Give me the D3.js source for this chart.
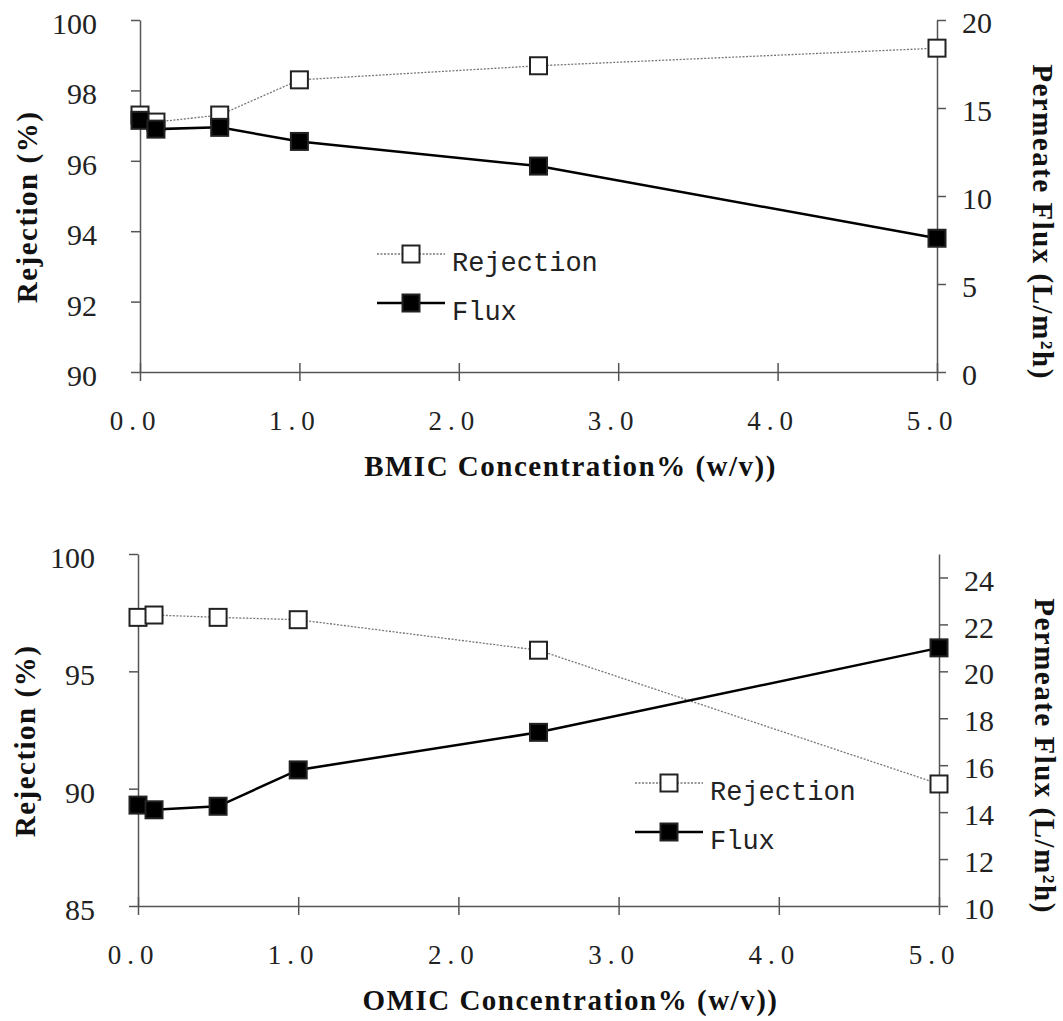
<!DOCTYPE html>
<html>
<head>
<meta charset="utf-8">
<script src="https://cdn.jsdelivr.net/npm/d3@7"></script>
<style>
body { margin: 0; background: #fff; }
svg { display: block; }
.y-label { font-family: "Liberation Serif", serif; font-size: 30px; fill: #222; }
.x-label { font-family: "Liberation Serif", serif; font-size: 27px; letter-spacing: 6px; fill: #222; }
.axis-title { font-family: "Liberation Serif", serif; font-size: 29px; font-weight: bold; letter-spacing: 1.5px; fill: #111; }
.legend-text { font-family: "Liberation Mono", monospace; font-size: 27px; fill: #222; }
</style>
</head>
<body>
<svg id="chart" width="1063" height="1021"></svg>
<script>
// values
const concentration = [0, 0.1, 0.5, 1.0, 2.5, 5.0];
const bmicRejection = [97.3, 97.1, 97.3, 98.3, 98.7, 99.2];
const bmicFlux = [14.3, 13.8, 13.9, 13.1, 11.7, 7.6];
const omicRejection = [97.3, 97.4, 97.3, 97.2, 95.9, 90.2];
const omicFlux = [14.3, 14.1, 14.25, 15.8, 17.4, 21.0];

const xTickValues = [0, 1, 2, 3, 4, 5];
const bmicRejectionTicks = [90, 92, 94, 96, 98, 100];
const bmicFluxTicks = [0, 5, 10, 15, 20];
const omicRejectionTicks = [85, 90, 95, 100];
const omicFluxTicks = [10, 12, 14, 16, 18, 20, 22, 24];

const legendLabels = ["Rejection", "Flux"];
const leftTitle = "Rejection (%)";
const rightTitle = "Permeate Flux (L/m²h)";

const svg = d3.select("#chart");
const axisColor = "#555";
const markerSize = 17;

function drawPanel(cfg) {
    const x = d3.scaleLinear().domain([0, 5]).range([cfg.left, cfg.right]);
    const yL = d3.scaleLinear().domain(cfg.rejDomain).range([cfg.bottom, cfg.top]);
    const yR = d3.scaleLinear().domain(cfg.fluxDomain).range([cfg.bottom, cfg.top]);

    const g = svg.append("g");

    // x axis, ticks cross the line
    const xAxisG = g.append("g")
        .attr("color", axisColor)
        .attr("transform", `translate(0,${cfg.bottom})`)
        .call(d3.axisBottom(x).tickValues(xTickValues).tickSize(9).tickSizeOuter(0)
            .tickPadding(30).tickFormat(d3.format(".1f")));
    xAxisG.selectAll(".tick line").attr("y1", -9);
    xAxisG.selectAll(".tick text").attr("class", "x-label").attr("x", -5);

    // left axis (rejection)
    const yLG = g.append("g")
        .attr("color", axisColor)
        .attr("transform", `translate(${cfg.left},0)`)
        .call(d3.axisLeft(yL).tickValues(cfg.rejTicks).tickSize(9).tickSizeOuter(0).tickPadding(34));
    yLG.selectAll(".tick text").attr("class", "y-label").attr("dy", "0.45em");

    // right axis (flux)
    const yRG = g.append("g")
        .attr("color", axisColor)
        .attr("transform", `translate(${cfg.right},0)`)
        .call(d3.axisRight(yR).tickValues(cfg.fluxTicks).tickSize(9).tickSizeOuter(0).tickPadding(16));
    yRG.selectAll(".tick text").attr("class", "y-label").attr("dy", "0.42em");

    g.selectAll(".domain, .tick line").attr("stroke-width", 1.5);

    // rejection: dotted line, open squares
    g.append("path")
        .datum(cfg.rejection)
        .attr("fill", "none")
        .attr("stroke", "#777")
        .attr("stroke-width", 1.3)
        .attr("stroke-dasharray", "2,1.5")
        .attr("d", d3.line().x((d, i) => x(concentration[i])).y(d => yL(d)));

    g.selectAll(".rej-mark")
        .data(cfg.rejection)
        .join("rect")
        .attr("class", "rej-mark")
        .attr("x", (d, i) => x(concentration[i]) - markerSize / 2)
        .attr("y", d => yL(d) - markerSize / 2)
        .attr("width", markerSize)
        .attr("height", markerSize)
        .attr("fill", "#fff")
        .attr("stroke", "#222")
        .attr("stroke-width", 2);

    // flux: solid line, filled squares
    g.append("path")
        .datum(cfg.flux)
        .attr("fill", "none")
        .attr("stroke", "#000")
        .attr("stroke-width", 2.5)
        .attr("d", d3.line().x((d, i) => x(concentration[i])).y(d => yR(d)));

    g.selectAll(".flux-mark")
        .data(cfg.flux)
        .join("rect")
        .attr("class", "flux-mark")
        .attr("x", (d, i) => x(concentration[i]) - markerSize / 2)
        .attr("y", d => yR(d) - markerSize / 2)
        .attr("width", markerSize)
        .attr("height", markerSize)
        .attr("fill", "#000")
        .attr("stroke", "#222")
        .attr("stroke-width", 2);

    // legend
    const leg = g.append("g").attr("transform", `translate(${cfg.legendX},${cfg.legendY})`);
    legendLabels.forEach((label, i) => {
        const row = leg.append("g").attr("transform", `translate(0,${i * 49})`);
        row.append("line")
            .attr("x1", -34).attr("x2", 34)
            .attr("stroke", i === 0 ? "#777" : "#000")
            .attr("stroke-width", i === 0 ? 1.3 : 2.5)
            .attr("stroke-dasharray", i === 0 ? "2,1.5" : null);
        row.append("rect")
            .attr("x", -markerSize / 2).attr("y", -markerSize / 2)
            .attr("width", markerSize).attr("height", markerSize)
            .attr("fill", i === 0 ? "#fff" : "#000")
            .attr("stroke", "#222")
            .attr("stroke-width", 2);
        row.append("text")
            .attr("class", "legend-text")
            .attr("x", 41)
            .attr("y", 17)
            .text(label);
    });

    // titles
    g.append("text")
        .attr("class", "axis-title")
        .attr("text-anchor", "middle")
        .attr("x", (cfg.left + cfg.right) / 2 + 32)
        .attr("y", cfg.bottom + 104)
        .text(cfg.xTitle);

    g.append("text")
        .attr("class", "axis-title")
        .attr("text-anchor", "middle")
        .attr("transform", `translate(${cfg.left - 103},${cfg.top + 187}) rotate(-90)`)
        .text(leftTitle);

    g.append("text")
        .attr("class", "axis-title")
        .attr("text-anchor", "middle")
        .attr("transform", `translate(${cfg.right + 96},${cfg.top + 202}) rotate(90)`)
        .text(rightTitle);
}

drawPanel({
    left: 140, right: 937, top: 20, bottom: 372,
    rejection: bmicRejection, flux: bmicFlux,
    rejDomain: [90, 100], fluxDomain: [0, 20],
    rejTicks: bmicRejectionTicks, fluxTicks: bmicFluxTicks,
    legendX: 411, legendY: 254,
    xTitle: "BMIC Concentration% (w/v))"
});

drawPanel({
    left: 138, right: 939, top: 554, bottom: 906,
    rejection: omicRejection, flux: omicFlux,
    rejDomain: [85, 100], fluxDomain: [10, 25],
    rejTicks: omicRejectionTicks, fluxTicks: omicFluxTicks,
    legendX: 669, legendY: 783,
    xTitle: "OMIC Concentration% (w/v))"
});
</script>
</body>
</html>
